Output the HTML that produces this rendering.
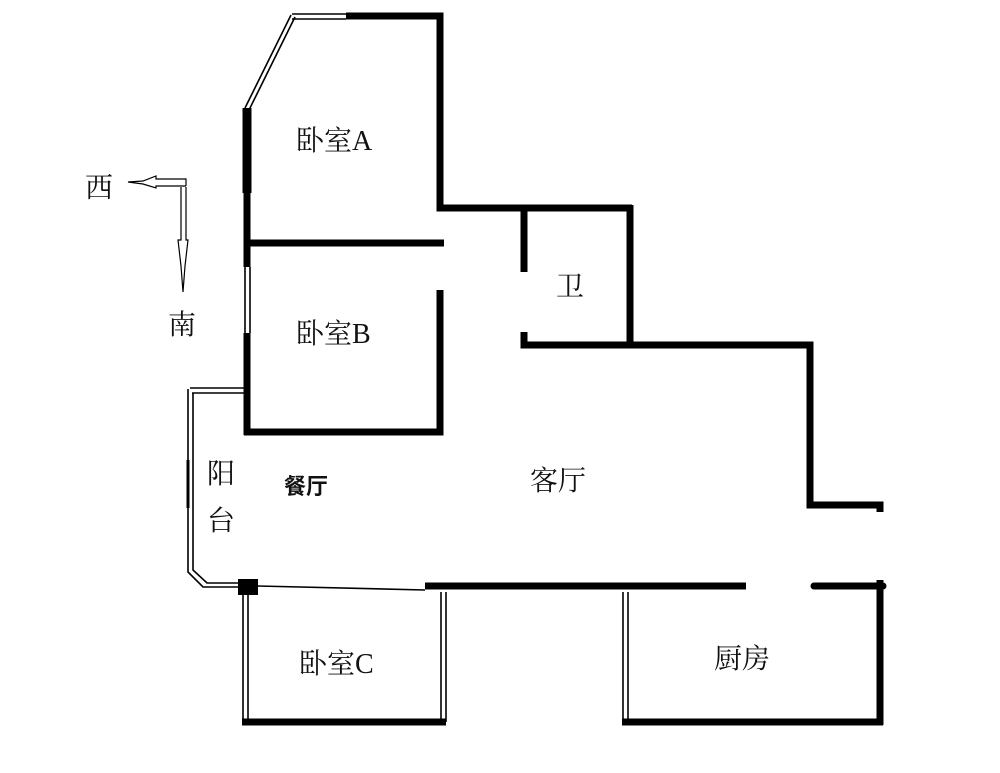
<!DOCTYPE html>
<html><head><meta charset="utf-8"><style>
html,body{margin:0;padding:0;background:#fff;}
svg{display:block}
text{font-family:"Liberation Serif","Noto Serif CJK SC","Noto Sans CJK SC",serif;fill:#111}
</style></head><body>
<svg width="1000" height="773" viewBox="0 0 1000 773" xmlns="http://www.w3.org/2000/svg">
<g stroke="#000" fill="none" stroke-linecap="butt">
<polyline points="346,16 440,16 440,208 632,208" stroke-width="7"/>
<line x1="247" y1="108" x2="247" y2="193" stroke-width="9"/>
<line x1="247" y1="190" x2="247" y2="267" stroke-width="7"/>
<line x1="247" y1="333" x2="247" y2="435" stroke-width="7"/>
<line x1="247" y1="243" x2="444" y2="243" stroke-width="7"/>
<polyline points="440,290 440,432 244,432" stroke-width="7"/>
<line x1="524" y1="208" x2="524" y2="272" stroke-width="7"/>
<polyline points="524,332 524,345 630,345 630,205" stroke-width="7"/>
<polyline points="630,345 810,345 810,505 880,505 880,512" stroke-width="7"/>
<line x1="425" y1="586" x2="746" y2="586" stroke-width="7"/>
<line x1="814" y1="586" x2="883" y2="586" stroke-width="7" stroke-linecap="round"/>
<line x1="880" y1="580" x2="880" y2="725" stroke-width="7"/>
<line x1="242" y1="722" x2="446" y2="722" stroke-width="7"/>
<line x1="622" y1="722" x2="883" y2="722" stroke-width="7"/>
<g stroke-width="1.6">
<line x1="292" y1="14" x2="346" y2="14"/><line x1="292" y1="19" x2="346" y2="19"/>
<line x1="291" y1="15" x2="245" y2="108"/><line x1="295" y1="17" x2="249" y2="110"/>
<line x1="245" y1="267" x2="245" y2="333"/><line x1="250" y1="267" x2="250" y2="333"/>
<line x1="190" y1="388" x2="247" y2="388"/><line x1="192" y1="393" x2="247" y2="393"/>
<polyline points="188,389 188,572 203,587 240,587"/>
<polyline points="193,393 193,570 207,583 240,583"/>
<line x1="188" y1="460" x2="188" y2="508" stroke-width="3"/>
<line x1="258" y1="586" x2="425" y2="590"/>
<line x1="243" y1="595" x2="243" y2="722"/><line x1="248" y1="595" x2="248" y2="722"/>
<line x1="441" y1="592" x2="441" y2="722"/><line x1="446" y1="592" x2="446" y2="722"/>
<line x1="623" y1="592" x2="623" y2="722"/><line x1="628" y1="592" x2="628" y2="722"/>
</g>
<rect x="238" y="579" width="20" height="16" fill="#000" stroke="none"/>
<g stroke-width="1.2">
<polyline points="186,186 186,179 156,179 156,176 143,181 128,182 143,184 156,188 156,186 186,186"/>
<polyline points="181,187 181,240 178,240 181,266 183,292 185,266 188,240 186,240 186,187"/>
</g>
</g>
<g font-size="28">
<text x="296" y="150">卧室A</text>
<text x="296" y="343">卧室B</text>
<text x="556" y="296">卫</text>
<text x="530" y="490">客厅</text>
<text x="207" y="483">阳</text>
<text x="207" y="530">台</text>
<text x="299" y="673">卧室C</text>
<text x="714" y="668">厨房</text>
<text x="85" y="197">西</text>
<text x="168" y="334">南</text>
</g>
<text x="284" y="494" font-size="22" font-weight="bold" style="font-family:'Noto Sans CJK SC',sans-serif">餐厅</text>
</svg>
</body></html>
